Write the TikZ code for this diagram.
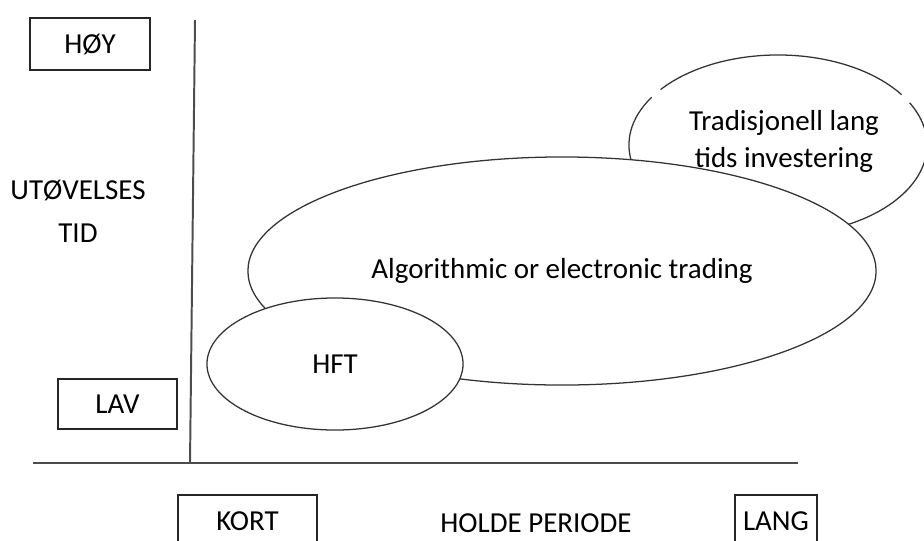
\documentclass[tikz,border=0pt]{standalone}
\usepackage{fontspec}
\setmainfont{Carlito}
\usetikzlibrary{shapes.geometric}

\newcommand{\calfont}{\fontsize{20.6}{26.3}\selectfont}

\tikzstyle{labelbox}=[draw=black!85, line width=1.1pt, minimum width=3cm, minimum height=1.3cm, inner sep=0pt]
\tikzstyle{blob}=[ellipse, draw=black!80, line width=0.9pt, fill=white, inner sep=0pt]
\tikzstyle{rim}=[draw=black!80, line width=0.9pt]
\tikzstyle{axis}=[line width=1.4pt, black!70]

\begin{document}
\begin{tikzpicture}[x=0.025cm, y=-0.025cm, font=\calfont]
      \useasboundingbox (0,0) rectangle (924,540);
      % axes
      \coordinate (top) at (195,20);
      \coordinate (origin) at (190,463);
      \coordinate (left) at (33,463);
      \coordinate (right) at (798,463);
      \draw[axis] (top) -- (origin);
      \draw[axis] (left) -- (right);

      % vertical axis labels
      \node[labelbox] (hoy) at (90,44) {HØY};
      \node[labelbox, minimum width=2.975cm, minimum height=1.25cm] (lav) at (117.5,404) {LAV};
      \node[align=center, font=\fontsize{20.6}{30.6}\selectfont] (utovelse) at (78,211) {UTØVELSES\\TID};

      % horizontal axis labels
      \node[labelbox, minimum width=3.475cm] (kort) at (247.5,521) {KORT};
      \node (holde) at (536,523) {HOLDE PERIODE};
      \node[labelbox, minimum width=2.05cm] (lang) at (776,521) {LANG};

      % long term investing, outline broken in two places
      \node[blob, draw=none, minimum width=7.45cm, minimum height=4.5cm] (trad) at (778,145) {};
      \draw[rim] ([shift={(34:3.725cm and 2.25cm)}]trad.center) arc[start angle=34, end angle=142, x radius=3.725cm, y radius=2.25cm];
      \draw[rim] ([shift={(148:3.725cm and 2.25cm)}]trad.center) arc[start angle=148, end angle=388, x radius=3.725cm, y radius=2.25cm];

      \node[blob, minimum width=15.7cm, minimum height=5.7cm] (algo) at (562,271) {Algorithmic or electronic trading};
      \node[blob, minimum width=6.4cm, minimum height=3.3cm] (hft) at (335,364) {HFT};

      % text of the long term ellipse sits above the middle one
      \node[align=center] (tradtext) at (784,141) {Tradisjonell lang\\tids investering};
    \end{tikzpicture}
\end{document}
